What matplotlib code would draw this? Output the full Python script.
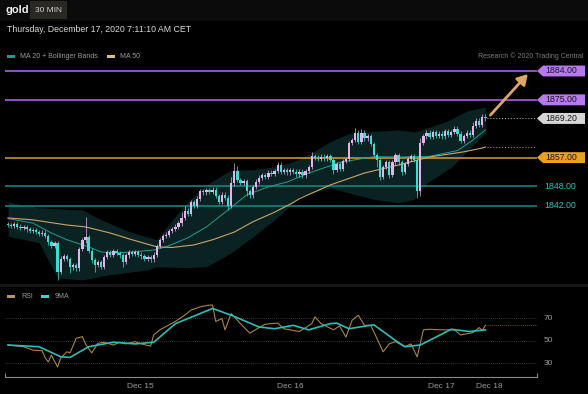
# gold 30 min chart - price panel with bollinger bands + RSI panel

# IMPORT STATEMENTS
import matplotlib
matplotlib.use("Agg")
import numpy as np
import matplotlib.pyplot as plt
import matplotlib.transforms as mtransforms
from matplotlib.patches import Polygon, Rectangle

plt.rcParams['font.family'] = ['Liberation Sans', 'DejaVu Sans']

# DATA
closes = [
    1836.0, 1835.8, 1836.2, 1835.5, 1835.0, 1835.3, 1834.6, 1834.2, 1834.5, 1833.8,
    1833.2, 1833.6, 1832.6, 1830.6, 1829.5, 1830.4, 1821.5, 1825.5, 1826.2, 1825.4,
    1822.8, 1823.5, 1822.5, 1828.5, 1831.2, 1832.2, 1828.0, 1825.0, 1823.5, 1824.5,
    1823.0, 1826.0, 1827.5, 1826.8, 1827.8, 1827.2, 1826.5, 1824.5, 1826.5, 1827.5,
    1827.0, 1827.6, 1826.8, 1826.2, 1825.5, 1826.0, 1825.3, 1826.8, 1829.5, 1831.3,
    1832.5, 1833.0, 1834.2, 1834.8, 1835.5, 1836.5, 1838.2, 1840.5, 1839.5, 1843.2,
    1842.0, 1844.2, 1846.5, 1846.2, 1846.8, 1846.3, 1847.0, 1845.0, 1843.2, 1845.5,
    1844.5, 1842.0, 1849.0, 1852.8, 1850.0, 1849.2, 1849.6, 1846.5, 1845.2, 1847.8,
    1849.5, 1850.8, 1851.6, 1851.0, 1852.3, 1852.0, 1852.8, 1854.8, 1852.6, 1853.0,
    1852.4, 1853.2, 1852.6, 1851.8, 1852.6, 1851.5, 1852.8, 1854.0, 1857.5, 1857.0,
    1856.5, 1857.3, 1856.8, 1857.5, 1856.2, 1853.2, 1855.0, 1853.5, 1856.0, 1856.5,
    1861.6, 1862.5, 1864.8, 1862.0, 1864.8, 1863.0, 1863.6, 1861.2, 1857.8, 1856.3,
    1851.0, 1854.0, 1855.5, 1851.6, 1855.5, 1857.8, 1855.5, 1852.5, 1855.0, 1856.5,
    1857.5, 1856.4, 1846.5, 1861.6, 1863.6, 1864.8, 1863.5, 1865.0, 1863.8, 1864.5,
    1863.6, 1865.2, 1864.2, 1865.0, 1866.0, 1864.5, 1862.2, 1863.8, 1864.8, 1864.0,
    1867.0, 1868.5, 1867.2, 1869.8, 1869.2,
]
first_open = 1836.3

# long wicks that stand out (candle index -> price)
marked_highs = {25: 1838.5, 56: 1840.0, 57: 1842.0, 72: 1851.0, 73: 1855.3,
                74: 1854.5, 98: 1858.8, 112: 1866.2, 114: 1866.0, 133: 1863.0,
                150: 1868.0, 153: 1870.5}
marked_lows = {16: 1818.9, 20: 1821.0, 28: 1821.5, 37: 1823.0, 71: 1840.7,
               77: 1845.0, 105: 1852.0, 119: 1854.0, 120: 1850.0, 123: 1850.5,
               127: 1851.5, 132: 1844.4, 133: 1845.0, 146: 1861.5}

ma20_idx = [0, 8, 14, 19, 26, 30, 35, 40, 47, 51, 58, 64, 71, 77, 84, 90, 98,
            107, 118, 126, 136, 145, 150, 154]
ma20_val = [1838.0, 1836.6, 1833.5, 1831.4, 1829.2, 1827.6, 1827.3, 1827.6,
            1828.2, 1829.2, 1832.0, 1835.4, 1840.7, 1845.4, 1847.9, 1849.4,
            1852.5, 1855.5, 1857.3, 1857.2, 1857.4, 1859.2, 1862.5, 1865.6]

ma50_idx = [0, 8, 19, 25, 33, 40, 48, 53, 60, 66, 73, 79, 86, 92, 94, 104,
            115, 126, 136, 147, 153, 154]
ma50_val = [1838.2, 1837.6, 1836.0, 1835.4, 1833.5, 1831.4, 1829.2, 1829.0,
            1829.8, 1831.4, 1833.8, 1837.0, 1840.0, 1843.0, 1844.2, 1848.5,
            1852.2, 1854.7, 1857.2, 1858.8, 1860.0, 1860.3]

bb_up_idx = [0, 10, 24, 30, 39, 48, 53, 58, 62, 65, 72, 79, 86, 92, 98, 104,
             110, 118, 126, 131, 136, 142, 148, 154]
bb_up_val = [1843.2, 1841.3, 1840.7, 1837.6, 1834.0, 1831.4, 1837.6, 1843.2,
             1847.0, 1849.1, 1853.2, 1853.2, 1854.2, 1855.7, 1858.5, 1862.0,
             1864.5, 1865.2, 1865.6, 1865.0, 1866.5, 1868.5, 1871.5, 1872.8]
bb_lo_idx = [0, 10, 16, 24, 32, 45, 48, 58, 64, 72, 79, 86, 92, 94, 104, 118,
             126, 131, 135, 143, 154]
bb_lo_val = [1832.5, 1830.5, 1819.5, 1818.9, 1820.4, 1822.0, 1823.0, 1822.7,
             1823.0, 1827.3, 1832.3, 1837.6, 1843.0, 1845.0, 1847.5, 1844.0,
             1842.9, 1844.0, 1849.0, 1854.0, 1864.7]

rsi_idx = [0, 5, 8, 11, 12, 13, 14, 16, 17, 19, 20, 22, 24, 25, 27, 29, 31,
           34, 36, 38, 41, 43, 46, 47, 49, 52, 54, 57, 59, 62, 65, 66, 67, 69,
           70, 72, 75, 78, 81, 83, 87, 89, 94, 98, 99, 101, 105, 107, 109, 111,
           113, 115, 117, 119, 121, 123, 125, 128, 130, 132, 134, 136, 140, 144,
           146, 150, 152, 153, 154]
rsi_val = [46, 44.5, 41.5, 41, 34.5, 31, 37, 26.5, 34.5, 40, 39, 52, 53.5, 47,
           39, 47.5, 48.5, 46, 48.5, 47, 49, 47, 45, 55, 59.5, 64, 67, 72.5, 77,
           80, 81.5, 81.5, 67, 69.5, 59.5, 74, 65, 56.5, 61.5, 64.5, 65.5, 60.5,
           58, 65, 71, 65, 59.5, 63, 53, 68, 72.5, 63.5, 63.5, 52, 40, 47, 49,
           44.5, 47, 35.5, 59.5, 60, 59.5, 59.5, 55, 57, 61.5, 59, 63.5]

ma9_idx = [0, 10, 17, 20, 26, 34, 41, 47, 54, 62, 66, 72, 81, 86, 92, 97, 104,
           106, 110, 118, 125, 128, 133, 143, 149, 154]
ma9_val = [46, 44.5, 35.6, 35, 44.5, 48.5, 47, 48.5, 65, 74, 78.5, 72.5, 62,
           60.5, 63.5, 59.5, 65, 65.5, 60.5, 64, 50, 44.5, 46, 60, 58, 59.5]

levels = [1884.0, 1875.0, 1857.0, 1848.0, 1842.0]
target = 1884.0
last_price = 1869.2
rsi_levels = [70, 50, 30]
day_ticks = [42.6, 91.0, 139.7, 155.2]
day_labels = ['Dec 15', 'Dec 16', 'Dec 17', 'Dec 18']

# COLOURS
BG = '#000000'
UP = '#e4b4ec'
DOWN = '#3fdcd2'
PURPLE = '#a75fe6'
PURPLE_BOX = '#b878f2'
ORANGE_LINE = '#c8922c'
ORANGE_BOX = '#e8a21e'
TEAL_LINE = '#17827a'
TEAL_TEXT = '#25c8b8'
BAND = '#0a2221'
MA20_C = '#1f9d93'
MA50_C = '#c9a56e'
GREY = '#9a9a9a'

W, H = 588, 394


def fx(px):
    return px / W


def fy(py):
    return 1 - py / H


# FUNCTIONS
def draw_candles(ax):
    opens = [first_open] + closes[:-1]
    for i, (o, c) in enumerate(zip(opens, closes)):
        col = UP if c >= o else DOWN
        hi = marked_highs.get(i, max(o, c) + 0.7)
        lo = marked_lows.get(i, min(o, c) - 0.7)
        ax.vlines(i, lo, hi, color=col, lw=0.5, zorder=4)
        body = max(abs(c - o), 0.35)
        ax.bar(i, body, bottom=min(o, c), width=0.72, color=col, lw=0, zorder=5)


def label_box(fig, ax, y, text, face, half=1.7):
    tr = mtransforms.blended_transform_factory(fig.transFigure, ax.transData)
    pts = [(fx(537), y), (fx(543), y + half), (fx(585), y + half),
           (fx(585), y - half), (fx(543), y - half)]
    ax.add_patch(Polygon(pts, closed=True, facecolor=face, edgecolor='none',
                         transform=tr, clip_on=False, zorder=6))
    ax.text(fx(561), y, text, transform=tr, ha='center', va='center',
            fontsize=6.3, color='#1a1a1a', zorder=7)


def price_panel(fig):
    ax = fig.add_axes([fx(5), fy(285), fx(532), (285 - 62) / H])
    ax.set_facecolor(BG)
    ax.set_xlim(-0.97, 170.65)
    ax.set_ylim(1817.3, 1886.8)

    # bollinger band fill: upper and lower sampled at different spots
    grid = np.arange(len(closes))
    up = np.interp(grid, bb_up_idx, bb_up_val)
    lo = np.interp(grid, bb_lo_idx, bb_lo_val)
    ax.fill_between(grid, lo, up, color=BAND, lw=0, zorder=1)

    ax.plot(ma20_idx, ma20_val, color=MA20_C, lw=0.7, zorder=3)
    ax.plot(ma50_idx, ma50_val, color=MA50_C, lw=0.8, zorder=3)

    draw_candles(ax)

    line_cols = [PURPLE, PURPLE, ORANGE_LINE, TEAL_LINE, TEAL_LINE]
    for lv, col in zip(levels, line_cols):
        ax.axhline(lv, color=col, lw=1.2, zorder=2)

    end = len(closes) - 0.5
    ax.hlines(last_price, end, 170.65, color='#bbbbbb', lw=0.7,
              linestyles=(0, (1, 2)), zorder=2)
    ax.hlines(ma50_val[-1], end, 170.65, color=MA50_C, lw=0.7,
              linestyles=(0, (1, 2)), zorder=2)

    ax.annotate('', xy=(168.3, target - 0.3), xytext=(len(closes), last_price + 0.4),
                arrowprops=dict(arrowstyle='-|>,head_length=0.6,head_width=0.35',
                                color='#dca766', lw=2.0), zorder=8)

    label_box(fig, ax, levels[0], '1884.00', PURPLE_BOX)
    label_box(fig, ax, levels[1], '1875.00', PURPLE_BOX)
    label_box(fig, ax, last_price, '1869.20', '#d6d6d6')
    label_box(fig, ax, levels[2], '1857.00', ORANGE_BOX)
    tr = mtransforms.blended_transform_factory(fig.transFigure, ax.transData)
    for lv in levels[3:]:
        ax.text(fx(544), lv, '%.2f' % lv, transform=tr, ha='left', va='center',
                fontsize=6.3, color=TEAL_TEXT)

    for s in ax.spines.values():
        s.set_visible(False)
    ax.set_xticks([])
    ax.set_yticks([])
    return ax


def rsi_panel(fig):
    ax = fig.add_axes([fx(5), fy(377), fx(532), (377 - 290) / H])
    ax.set_facecolor(BG)
    ax.set_xlim(-0.97, 170.65)
    ax.set_ylim(17.6, 94.9)

    for lv in rsi_levels:
        ax.axhline(lv, color='#4a4a4a', lw=0.6, ls=(0, (1, 1.5)), zorder=1)
    ax.hlines(rsi_val[-1], rsi_idx[-1], 170.65, color='#8f7440', lw=0.6,
              linestyles=(0, (1, 1.5)), zorder=1)

    ax.plot(rsi_idx, rsi_val, color='#a88447', lw=0.8, zorder=3)
    ax.plot(ma9_idx, ma9_val, color='#2bbdb8', lw=1.2, zorder=4)

    tr = mtransforms.blended_transform_factory(fig.transFigure, ax.transData)
    for lv in rsi_levels:
        ax.text(fx(548), lv, str(lv), transform=tr, ha='center', va='center',
                fontsize=6, color=GREY)

    for name in ['top', 'left', 'right']:
        ax.spines[name].set_visible(False)
    ax.spines['bottom'].set_color('#8a8a8a')
    ax.spines['bottom'].set_linewidth(0.8)
    ax.set_yticks([])
    ax.set_xticks(day_ticks)
    ax.set_xticklabels(day_labels)
    ax.tick_params(axis='x', length=0, pad=4, labelsize=6, colors=GREY)
    # little end marks on the time axis
    ax.vlines([-0.97, 170.6], 17.6, 21.0, color='#8a8a8a', lw=0.8, clip_on=False)
    return ax


def header(fig):
    fig.add_artist(Rectangle((0, fy(21)), 1, 21 / H, transform=fig.transFigure,
                             facecolor='#0b0b0b', edgecolor='none', zorder=0))
    fig.add_artist(Rectangle((fx(30), fy(19)), fx(37), 18 / H,
                             transform=fig.transFigure, facecolor='#2a2824',
                             edgecolor='none', zorder=1))
    fig.text(fx(6), fy(10), 'gold', fontsize=8, fontweight='bold', color='#eeeeee',
             va='center', ha='left')
    fig.text(fx(48.5), fy(10), '30 MIN', fontsize=6, color='#cfcfcf',
             va='center', ha='center')
    fig.text(fx(7), fy(30), 'Thursday, December 17, 2020 7:11:10 AM CET',
             fontsize=6.3, color='#d8d8d8', va='center', ha='left')

    # price legend
    fig.add_artist(Rectangle((fx(7), fy(57.5)), fx(8), 2.5 / H,
                             transform=fig.transFigure, facecolor=MA20_C, lw=0))
    fig.text(fx(20), fy(56), 'MA 20 + Bollinger Bands', fontsize=5, color=GREY,
             va='center')
    fig.add_artist(Rectangle((fx(107), fy(57.5)), fx(8), 2.5 / H,
                             transform=fig.transFigure, facecolor='#d8c17f', lw=0))
    fig.text(fx(120), fy(56), 'MA 50', fontsize=5, color=GREY, va='center')
    fig.text(fx(583), fy(56), 'Research \u00a9 2020 Trading Central', fontsize=5,
             color='#7a7a7a', va='center', ha='right')

    # panel separator
    fig.add_artist(Rectangle((0, fy(287)), 1, 3 / H, transform=fig.transFigure,
                             facecolor='#161616', lw=0))

    # rsi legend
    fig.add_artist(Rectangle((fx(7), fy(297.5)), fx(8), 2.5 / H,
                             transform=fig.transFigure, facecolor='#b8955a', lw=0))
    fig.text(fx(21), fy(296), 'RSI', fontsize=5, color=GREY, va='center')
    fig.add_artist(Rectangle((fx(41), fy(297.5)), fx(8), 2.5 / H,
                             transform=fig.transFigure, facecolor='#35d9d6', lw=0))
    fig.text(fx(55), fy(296), '9MA', fontsize=5, color=GREY, va='center')


# MAIN FUNCTION
def main():
    fig = plt.figure(figsize=(W / 100, H / 100), dpi=100, facecolor=BG)
    header(fig)
    price_panel(fig)
    rsi_panel(fig)
    fig.savefig('out.png', dpi=100, facecolor=BG)


if __name__ == "__main__":
    main()
